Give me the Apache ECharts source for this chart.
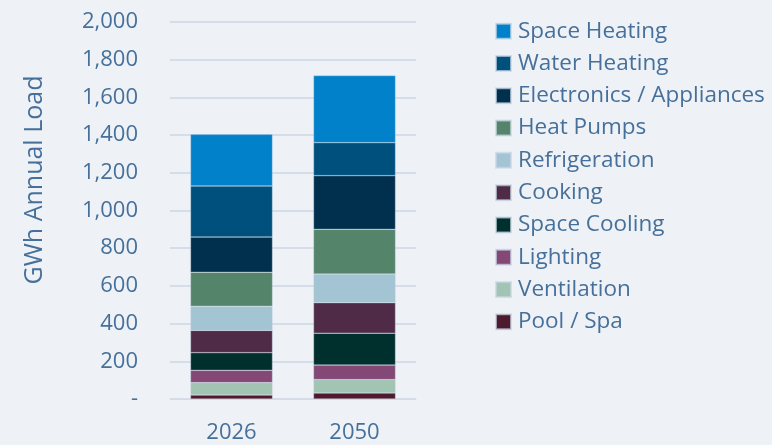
<!DOCTYPE html>
<html>
<head>
<meta charset="utf-8">
<script src="https://cdn.jsdelivr.net/npm/echarts@6/dist/echarts.min.js"></script>
<style>
html,body{margin:0;padding:0;background:#eef2f7;}
#c{width:772px;height:445px;}
</style>
</head>
<body>
<div id="c"></div>
<script>
const categories = ['2026', '2050'];
const seriesNames = ['Pool / Spa', 'Ventilation', 'Lighting', 'Space Cooling', 'Cooking', 'Refrigeration', 'Heat Pumps', 'Electronics / Appliances', 'Water Heating', 'Space Heating'];
const poolSpa = [21, 32];
const ventilation = [66, 71];
const lighting = [65, 77];
const spaceCooling = [94, 169];
const cooking = [118, 162];
const refrigeration = [128, 152];
const heatPumps = [180, 237];
const electronics = [187, 285];
const waterHeating = [271, 175];
const spaceHeating = [274, 356];
const yTicks = [0, 200, 400, 600, 800, 1000, 1200, 1400, 1600, 1800, 2000];

const values = [poolSpa, ventilation, lighting, spaceCooling, cooking, refrigeration, heatPumps, electronics, waterHeating, spaceHeating];
const colors = ['#4e1a2d', '#a2c4b3', '#834876', '#00302d', '#4f2b48', '#a3c4d2', '#548469', '#00304e', '#00507d', '#0281cb'];
const textColor = '#46709a';
const font = 'Open Sans';

const chart = echarts.init(document.getElementById('c'));
chart.setOption({
  backgroundColor: '#eef2f7',
  animation: false,
  grid: { left: 170, right: 356, top: 22, bottom: 46 },
  legend: {
    orient: 'vertical',
    left: 490,
    top: 14,
    itemWidth: 15,
    itemHeight: 15,
    itemGap: 8,
    icon: 'rect',
    data: seriesNames.slice().reverse(),
    textStyle: { color: textColor, fontSize: 22.5, lineHeight: 24.3, fontFamily: font, padding: [0, 0, 0, 2] }
  },
  graphic: [{
    type: 'text',
    x: 35, y: 180,
    rotation: Math.PI / 2,
    style: { text: 'GWh Annual Load', fill: textColor, fontSize: 25, fontFamily: font, align: 'center', verticalAlign: 'middle' }
  }],
  xAxis: {
    type: 'category',
    data: categories,
    axisLine: { show: true, lineStyle: { color: '#d3dbe6', width: 1 } },
    axisTick: { show: false },
    axisLabel: { color: textColor, fontSize: 22, fontFamily: font, margin: 23 }
  },
  yAxis: {
    type: 'value',
    min: yTicks[0],
    max: yTicks[yTicks.length - 1],
    interval: 200,
    axisLine: { show: false },
    axisTick: { show: false },
    splitLine: { lineStyle: { color: '#d5dde9', width: 2 } },
    axisLabel: {
      color: textColor, fontSize: 22, fontFamily: font, margin: 32,
      formatter: v => v === 0 ? '-' : v.toLocaleString('en-US')
    }
  },
  series: seriesNames.map((n, i) => ({
    name: n,
    type: 'bar',
    stack: 'total',
    barWidth: 82,
    data: values[i],
    itemStyle: { color: colors[i], borderColor: 'rgba(200,215,230,0.7)', borderWidth: 0.5 }
  }))
});
</script>
</body>
</html>
